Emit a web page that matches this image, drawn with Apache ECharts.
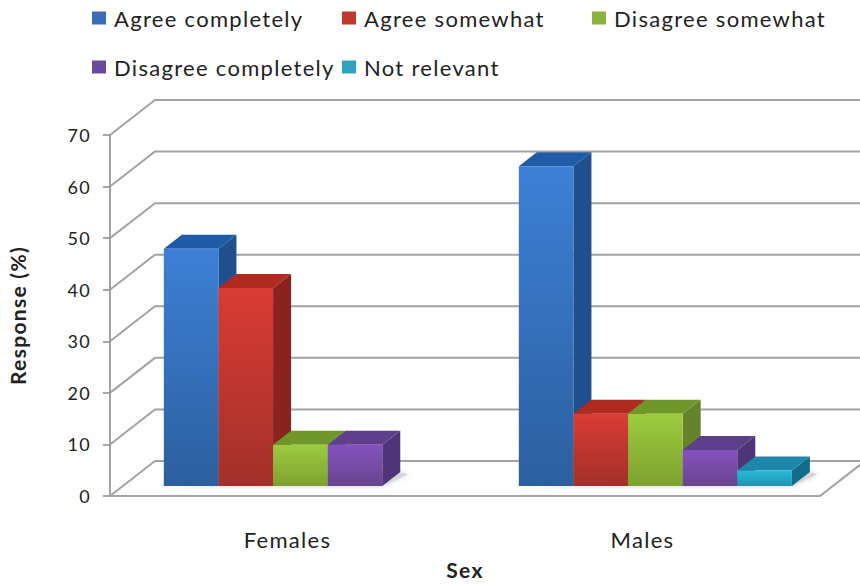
<!DOCTYPE html>
<html>
<head>
<meta charset="utf-8">
<style>html,body{margin:0;padding:0;background:#fff}#chart{width:860px;height:584px}#chart text{letter-spacing:1.3px}</style>
<script src="https://cdn.jsdelivr.net/npm/echarts@6/dist/echarts.min.js"></script>
</head>
<body>
<div id="chart"></div>
<script>
// Survey responses by sex, drawn as a faux-3D clustered column chart.
const categories = ['Females', 'Males'];
const seriesNames = ['Agree completely', 'Agree somewhat', 'Disagree somewhat', 'Disagree completely', 'Not relevant'];
const agreeCompletely = [46, 62];
const agreeSomewhat = [38.4, 14];
const disagreeSomewhat = [8, 14];
const disagreeCompletely = [8, 7];
const notRelevant = [0, 3];
const yTicks = [0, 10, 20, 30, 40, 50, 60, 70];
const seriesValues = [agreeCompletely, agreeSomewhat, disagreeSomewhat, disagreeCompletely, notRelevant];

// Face colours per series: front top, front bottom, top face, side face, legend swatch
const frontTop = ['#3D80D6', '#DA3B35', '#9DCC3E', '#8451BE', '#28BAD9'];
const frontBottom = ['#2C5F9F', '#A2302A', '#7EA12F', '#69458F', '#2192B1'];
const topFace = ['#1F5BA6', '#B02A20', '#70972A', '#5D3F8B', '#1C87A9'];
const sideFace = ['#1F4F8D', '#8A231E', '#64832A', '#503478', '#136B8B'];
const swatch = ['#3A6DB5', '#BE3A2D', '#8CB23F', '#6B4A9B', '#2FA3BF'];

// Projection of the depth axis on screen
const DEPTH_X = 45, DEPTH_Y = 35;
const BAR_NEAR = 10 / 35, BAR_FAR = 24 / 35;
const GAP_RATIO = 0.75;
const GRID_COLOR = '#A3A3A3';
const TEXT_COLOR = '#222';
const FONT = 'Lato';

function bandEdges(api) {
  const band = api.size([1, 0])[0];
  const left = api.coord([0, 0])[0] - band / 2;
  return { band, left, right: left + band * categories.length };
}

function barSlot(band) {
  return band / (seriesNames.length + 2 * GAP_RATIO);
}

// Back wall lines, side wall diagonals and the right edge of the floor
function renderWalls(params, api) {
  const v = api.value(0);
  const y = api.coord([0, v])[1];
  const { left, right } = bandEdges(api);
  const style = { stroke: GRID_COLOR, lineWidth: 2, fill: null };
  const children = [
    { type: 'polyline', shape: { points: [[left, y], [left + DEPTH_X, y - DEPTH_Y], [right + DEPTH_X, y - DEPTH_Y]] }, style }
  ];
  if (v === 0) {
    children.push({ type: 'line', shape: { x1: right, y1: y, x2: right + DEPTH_X, y2: y - DEPTH_Y }, style });
  }
  return { type: 'group', children };
}

// Soft shadow cast on the floor under each cluster
function renderShadow(params, api) {
  const cat = api.value(0);
  const { band, left } = bandEdges(api);
  const slot = barSlot(band);
  const count = seriesValues.filter(s => s[cat] > 0).length;
  const x0 = left + cat * band + GAP_RATIO * slot + BAR_NEAR * DEPTH_X;
  const x1 = x0 + count * slot;
  const base = api.coord([cat, 0])[1] - BAR_NEAR * DEPTH_Y;
  return {
    type: 'polygon',
    shape: { points: [[x0 - 5, base], [x1, base], [x1 + 26, base - 12], [x1 + 14, base - 14]] },
    style: { fill: '#D6D6D6', shadowColor: '#CFCFCF', shadowBlur: 5 }
  };
}

function renderBar(seriesIndex) {
  return function (params, api) {
    const cat = api.value(0);
    const val = api.value(1);
    if (!val) return null;
    const { band, left } = bandEdges(api);
    const slot = barSlot(band);
    const nearX = BAR_NEAR * DEPTH_X, nearY = BAR_NEAR * DEPTH_Y;
    const dx = (BAR_FAR - BAR_NEAR) * DEPTH_X, dy = (BAR_FAR - BAR_NEAR) * DEPTH_Y;
    const x0 = left + cat * band + (GAP_RATIO + seriesIndex) * slot + nearX;
    const x1 = x0 + slot;
    const yBase = api.coord([cat, 0])[1] - nearY;
    const yTop = api.coord([cat, val])[1] - nearY;
    return {
      type: 'group',
      children: [
        { type: 'polygon', shape: { points: [[x1, yBase], [x1 + dx, yBase - dy], [x1 + dx, yTop - dy], [x1, yTop]] },
          style: { fill: sideFace[seriesIndex] } },
        { type: 'polygon', shape: { points: [[x0, yTop], [x1, yTop], [x1 + dx, yTop - dy], [x0 + dx, yTop - dy]] },
          style: { fill: topFace[seriesIndex] } },
        { type: 'rect', shape: { x: x0, y: yTop, width: slot, height: yBase - yTop },
          style: { fill: { type: 'linear', x: 0, y: 0, x2: 0, y2: 1,
            colorStops: [{ offset: 0, color: frontTop[seriesIndex] }, { offset: 1, color: frontBottom[seriesIndex] }] } } }
      ]
    };
  };
}

// Legend cells, laid out on a fixed three-column, two-row arrangement
const legendLeft = [92, 342, 592, 92, 342];
const legendTop = [7, 7, 7, 56, 56];

const option = {
  backgroundColor: '#fff',
  animation: false,
  legend: seriesNames.map((name, i) => ({
    data: [name],
    left: legendLeft[i],
    top: legendTop[i],
    padding: 0,
    icon: 'rect',
    itemWidth: 14,
    itemHeight: 13,
    selectedMode: false,
    textStyle: { fontFamily: FONT, fontSize: 22, color: TEXT_COLOR, padding: [0, 0, 0, 3] }
  })),
  grid: { left: 110, right: 40, top: 135, bottom: 88, outerBoundsMode: 'none', containLabel: false },
  xAxis: {
    type: 'category',
    data: categories,
    name: 'Sex',
    nameLocation: 'middle',
    nameGap: 63,
    nameTextStyle: { fontFamily: FONT, fontSize: 21, fontWeight: 'bold', color: TEXT_COLOR },
    axisLine: { lineStyle: { color: GRID_COLOR, width: 2 } },
    axisTick: { length: 10, lineStyle: { color: '#8A8A8A', width: 1.5 } },
    axisLabel: { fontFamily: FONT, fontSize: 22, color: TEXT_COLOR, margin: 32 },
    splitLine: { show: false }
  },
  yAxis: {
    type: 'value',
    min: 0,
    max: 70,
    interval: 10,
    name: 'Response (%)',
    nameLocation: 'middle',
    nameGap: 82,
    nameRotate: 90,
    nameTextStyle: { fontFamily: FONT, fontSize: 21, fontWeight: 'bold', color: TEXT_COLOR },
    axisLine: { show: true, lineStyle: { color: GRID_COLOR, width: 2 } },
    axisTick: { show: true, length: 7, lineStyle: { color: '#8A8A8A', width: 1.5 } },
    axisLabel: { fontFamily: FONT, fontSize: 18, color: TEXT_COLOR, margin: 19 },
    splitLine: { show: false }
  },
  series: [
    { type: 'custom', name: 'walls', silent: true, renderItem: renderWalls,
      data: yTicks.map(v => [v]), encode: { y: 0 }, clip: false },
    { type: 'custom', name: 'floor shadow', silent: true, renderItem: renderShadow,
      data: categories.map((c, i) => [i, 0]), encode: { x: 0, y: 1 }, clip: false }
  ].concat(seriesNames.map((name, i) => ({
    type: 'custom',
    name,
    renderItem: renderBar(i),
    itemStyle: { color: swatch[i] },
    data: seriesValues[i].map((v, c) => [c, v]),
    encode: { x: 0, y: 1 },
    clip: false
  })))
};

echarts.init(document.getElementById('chart'), null, { renderer: 'svg' }).setOption(option);
</script>
</body>
</html>
